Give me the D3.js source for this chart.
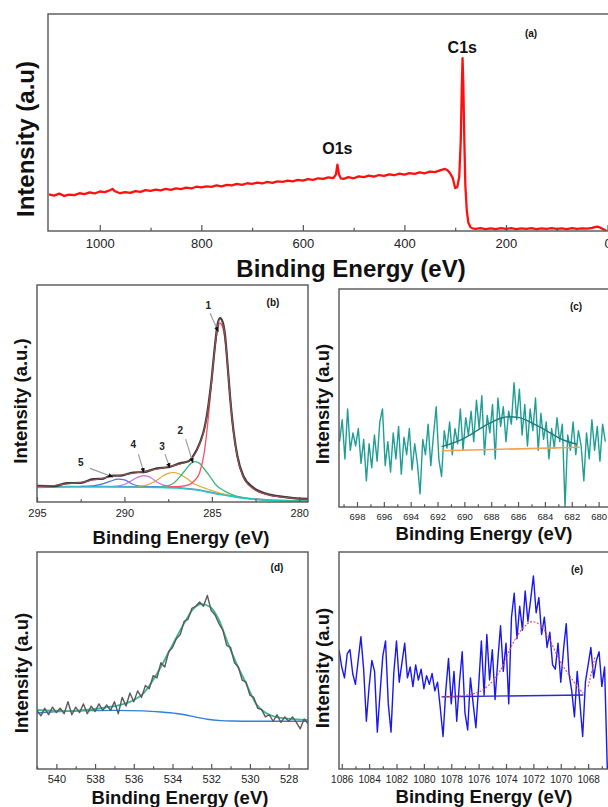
<!DOCTYPE html>
<html><head><meta charset="utf-8">
<script src="https://cdn.jsdelivr.net/npm/d3@7"></script>
<style>body{margin:0;background:#fff}svg{display:block}text{font-family:"Liberation Sans",Arial,sans-serif}</style>
</head><body><svg id="c" width="608" height="807"></svg>
<script>
// ---------- (a) survey ----------
const surveyE = [1100,1090,1080,1070,1060,1050,1040,1030,1020,1010,1000,990,980,975,970,960,950,940,930,920,910,900,890,880,870,860,850,840,830,820,810,800,790,780,770,760,750,740,730,720,710,700,690,680,670,660,650,640,630,620,610,600,590,580,570,560,550,540,535,532,529,525,520,510,500,490,480,470,460,450,440,430,420,410,400,390,380,370,360,350,340,330,320,315,310,305,300,296,292,289,287,285.5,284,282,280,277,274,270,266,260,250,240,230,220,210,200,190,180,170,160,150,140,130,120,110,100,90,80,70,60,50,40,30,25,20,15,10,5,2];
const surveyI = [16.9,16.3,17.2,16.2,16.8,16.5,17.4,17.0,17.8,17.3,18.2,17.9,18.8,19.4,18.3,17.4,17.9,17.6,18.4,18.0,18.8,18.5,19.1,18.7,19.4,19.0,19.6,19.3,20.0,19.6,20.4,20.1,20.6,20.3,21.0,20.6,21.3,21.0,21.7,21.3,22.0,21.7,22.3,21.9,22.6,22.2,22.9,22.6,23.2,22.9,23.6,23.2,23.9,23.6,24.3,24.0,24.7,24.4,26.0,30.6,26.2,24.2,24.0,24.8,24.3,25.2,24.8,25.5,25.1,25.8,25.4,26.1,25.7,26.4,26.0,26.7,26.3,27.0,26.6,27.4,27.1,27.9,28.6,28.0,26.6,24.5,19.8,20.2,25,42,66,79.7,68,42,21,9,3.8,1.8,1.2,1.0,1.3,0.9,1.2,0.9,1.3,1.0,1.3,0.9,1.2,1.0,1.3,0.9,1.2,1.0,1.3,1.0,1.2,0.9,1.3,1.0,1.2,1.1,1.4,1.8,2.0,1.6,1.0,0.4,0.2];
const surveyTicks = [1000,800,600,400,200,0];
const surveyMinor = [900,700,500,300,100];
const surveyPeaks = ["C1s","O1s"], surveyPeakE = [286,532], surveyPeakI = [82,35.5];

// ---------- (b) C1s ----------
const c1sEnvE = [295,294,293.3,292.5,291.8,291.2,290.8,290.2,289.5,288.9,288.15,287.5,286.8,286.34,286.06,285.68,285.39,285.2,285.01,284.82,284.68,284.53,284.38,284.24,284.11,283.96,283.77,283.54,283.2,282.63,281.86,280.91,279.5];
const c1sEnvI = [7.1,7.6,8.3,9.0,10.1,11.0,11.7,12.4,13.2,14.0,15.1,16.3,17.5,19.0,20.9,27.0,34.7,43.9,56.2,71.6,80.8,84.2,82.3,76.2,63.9,48.5,33.2,20.9,11.7,6.3,3.5,2.2,1.2];
const c1sDataI = [7.4,7.3,8.7,8.8,10.5,10.8,12.1,12.2,13.6,13.8,15.5,16.0,17.9,18.8,21.3,27.4,35.2,44.4,56.8,72.2,81.5,84.8,82.9,76.6,64.2,48.7,33.5,21.2,12.0,6.6,3.8,2.4,1.4];
const comp1E = [287.5,286.8,286.3,286.0,285.7,285.45,285.25,285.05,284.85,284.7,284.55,284.4,284.25,284.1,283.95,283.77,283.54,283.2,282.63,281.86,280.91,279.5];
const comp1I = [7.0,7.2,8.0,9.8,13.5,22,35,52,69,78,82.5,81,75,63,48,32.5,20.5,11.4,6.1,3.4,2.1,1.1];
const comp2E = [288,287.5,287.2,286.82,286.44,286.2,285.96,285.7,285.49,285.1,284.8,284.53,284.1,283.77,283.2,282.6,282,281,279.5];
const comp2I = [7.0,7.5,8.6,11.7,15.5,17.8,18.6,17.8,15.8,11.7,8.2,6.3,4.3,3.2,2.0,1.2,0.9,0.7,0.6];
const comp3E = [289.3,288.72,288.4,288.15,287.8,287.5,287.2,286.9,286.44,286.1,285.86,285.4,285.1,284.5,283.96,283.0,282];
const comp3I = [7.1,7.8,8.9,10.0,12.0,13.2,13.6,13.0,10.9,8.8,7.8,6.4,5.5,4.0,2.8,1.6,1.1];
const comp4E = [290.6,290.25,289.9,289.7,289.3,288.9,288.5,288.15,287.8,287.5,287];
const comp4I = [7.2,7.6,8.4,9.4,11.2,12.2,11.3,9.2,7.9,7.3,7.0];
const comp5E = [292.5,291.97,291.5,291.2,290.8,290.35,290.0,289.68,289.3,288.8,288];
const comp5I = [7.2,7.3,7.9,8.5,9.6,10.5,10.2,8.8,7.6,7.2,7.0];
const c1sBaseE = [295,293,291,289,288,287,286.3,285.86,285.2,284.72,284.1,283.58,282.8,282.07,281,279.5];
const c1sBaseI = [7.0,7.2,7.2,7.1,7.0,6.7,6.2,5.8,4.8,4.0,3.2,2.5,1.7,1.2,0.8,0.6];
const c1sTicks = [295,290,285,280], c1sMinor = [292.5,287.5,282.5];
const annLabels = ["1","2","3","4","5"];
const annTextE = [285.2,286.8,287.85,289.5,292.5], annTextI = [90.8,33.2,25.8,26.7,18.4];
const annFromE = [285.1,286.5,287.68,289.2,291.97], annFromI = [87,29,22,22,15.5];
const annToE = [284.63,286.08,287.4,288.88,290.65], annToI = [78.5,18,15.7,13.4,11.5];

// ---------- (c) F1s ----------
const f1sE = [699.3,699.1,698.9,698.7,698.5,698.3,698.1,697.9,697.7,697.5,697.3,697.1,696.9,696.7,696.5,696.3,696.1,695.9,695.7,695.5,695.3,695.1,694.9,694.7,694.5,694.3,694.1,693.9,693.7,693.5,693.3,693.1,692.9,692.7,692.5,692.3,692.1,691.9,691.7,691.5,691.3,691.1,690.9,690.7,690.5,690.3,690.1,689.9,689.7,689.5,689.3,689.1,688.9,688.7,688.5,688.3,688.1,687.9,687.7,687.5,687.3,687.1,686.9,686.7,686.5,686.3,686.1,685.9,685.7,685.5,685.3,685.1,684.9,684.7,684.5,684.3,684.1,683.9,683.7,683.5,683.3,683.1,682.9,682.7,682.5,682.3,682.1,681.9,681.7,681.5,681.3,681.1,680.9,680.7,680.5,680.3,680.1,679.9,679.7,679.5];
const f1sI = [30,40,22,45,26,34,28,36,20,31,12,29,18,33,21,39,45,19,30,16,34,22,37,15,32,24,36,17,29,20,6,31,24,38,19,33,46,22,14,35,27,39,24,36,29,45,26,41,33,44,30,49,36,51,24,42,34,47,22,50,37,46,30,44,38,57,40,54,33,47,28,45,35,50,26,43,31,39,22,36,27,41,30,38,0,33,26,39,24,35,28,12,34,22,40,26,37,21,38,30];
const f1sFitE = [691.7,691,690.3,689.5,688.8,688,687.3,686.7,685.9,685.2,684.4,683.6,682.9,682.2,681.6];
const f1sFitI = [27.7,29,30.7,33.3,36.1,38.8,40.7,41.4,41.0,39.3,36.8,34.0,31.5,29.8,28.8];
const f1sBaseE = [691.7,681.4], f1sBaseI = [25.8,27.4];
const f1sTicks = [698,696,694,692,690,688,686,684,682,680];
const f1sMinor = [699,697,695,693,691,689,687,685,683,681];

// ---------- (d) O1s ----------
const o1sE = [541.0,540.8,540.6,540.4,540.2,540.0,539.8,539.6,539.4,539.2,539.0,538.8,538.6,538.4,538.2,538.0,537.8,537.6,537.4,537.2,537.0,536.8,536.6,536.4,536.2,536.0,535.8,535.6,535.4,535.2,535.0,534.8,534.6,534.4,534.2,534.0,533.8,533.6,533.4,533.2,533.0,532.8,532.6,532.4,532.2,532.0,531.8,531.6,531.4,531.2,531.0,530.8,530.6,530.4,530.2,530.0,529.8,529.6,529.4,529.2,529.0,528.8,528.6,528.4,528.2,528.0,527.8,527.6,527.4,527.2,527.0];
const o1sI = [27,24.5,28,25,28.5,26,28,25.5,31,25,28.5,26,30,25.5,29,26.5,30,27,29.5,27,31,25.5,33,29,35,31,36,33,38.5,37,43,42,49,47,54,56,60,62,68,69,74,75,77,75,80,73,71,67,64,57,56,49,47,41,40,34,33,28,27.5,24,25,22,25,21.5,24,22,24,21.5,18.5,23,21];
const o1sFitE = [541,539.45,537.7,536.7,536.0,535.5,535.0,534.5,533.96,533.4,532.9,532.5,532.07,531.6,531.2,530.7,530.2,529.7,529.15,528.3,527.0];
const o1sFitI = [27.2,26.7,28.0,29.5,31.8,34.9,41.0,48.7,57.9,67.1,74.0,76.0,74.8,68.7,59.4,48.7,39.5,30.3,25.7,23.4,22.6];
const o1sBaseE = [541,539,537,535.5,534.6,533.8,533.3,532.8,532.2,531.5,530.9,530,527];
const o1sBaseI = [25.8,26.8,27.0,26.8,26.3,25.6,24.9,23.9,22.9,22.3,22.1,22.0,22.0];
const o1sTicks = [540,538,536,534,532,530,528];
const o1sMinor = [541,539,537,535,533,531,529];

// ---------- (e) Na1s ----------
const na1sE = [1086.2,1086.0,1085.8,1085.6,1085.4,1085.2,1085.0,1084.8,1084.6,1084.4,1084.2,1084.0,1083.8,1083.6,1083.4,1083.2,1083.0,1082.8,1082.6,1082.4,1082.2,1082.0,1081.8,1081.6,1081.4,1081.2,1081.0,1080.8,1080.6,1080.4,1080.2,1080.0,1079.8,1079.6,1079.4,1079.2,1079.0,1078.8,1078.6,1078.4,1078.2,1078.0,1077.8,1077.6,1077.4,1077.2,1077.0,1076.8,1076.6,1076.4,1076.2,1076.0,1075.8,1075.6,1075.4,1075.2,1075.0,1074.8,1074.6,1074.4,1074.2,1074.0,1073.8,1073.6,1073.4,1073.2,1073.0,1072.8,1072.6,1072.4,1072.2,1072.0,1071.8,1071.6,1071.4,1071.2,1071.0,1070.8,1070.6,1070.4,1070.2,1070.0,1069.8,1069.6,1069.4,1069.2,1069.0,1068.8,1068.6,1068.4,1068.2,1068.0,1067.8,1067.6,1067.4,1067.2,1067.0,1066.8,1066.6];
const na1sI = [55,47,42,53,55,44,39,50,61,46,22,38,50,45,17,35,52,59,30,17,44,59,40,49,58,42,47,38,48,41,46,37,43,39,44,36,40,28,15,36,51,30,45,22,40,54,26,18,42,30,19,38,59,34,62,41,55,32,50,66,45,58,30,70,81,60,75,64,82,68,78,89,72,79,62,70,56,63,48,46,58,40,55,67,44,36,24,45,30,15,40,48,56,42,50,54,38,47,0];
const na1sFitE = [1078.7,1077.6,1076.4,1075.4,1074.4,1073.5,1072.7,1072.1,1071.5,1070.8,1070.1,1069.3,1068.7,1068.35];
const na1sFitI = [33.3,33.6,34.6,37.9,45.6,57.9,65.3,67.9,66.4,59.4,50.2,42.5,37.2,34.9];
const na1sFit2E = [1068.0,1067.7,1067.5], na1sFit2I = [38,46,51.7];
const na1sBaseE = [1078.7,1068.35], na1sBaseI = [33.3,34.1];
const na1sTicks = [1086,1084,1082,1080,1078,1076,1074,1072,1070,1068];
const na1sMinor = [1085,1083,1081,1079,1077,1075,1073,1071,1069,1067];

// ---------- drawing ----------
const svg = d3.select("#c");
const defs = svg.append("defs");
defs.append("marker").attr("id","ah").attr("viewBox","0 0 10 10").attr("refX",9).attr("refY",5)
  .attr("markerWidth",5).attr("markerHeight",5).attr("orient","auto")
  .append("path").attr("d","M0,1L10,5L0,9Z").attr("fill","#111");

function panel(p) {
  const x = d3.scaleLinear().domain(p.xd).range([p.l, p.r]);
  const y = d3.scaleLinear().domain([0,100]).range([p.b, p.t]);
  const g = svg.append("g");
  defs.append("clipPath").attr("id","clip"+p.id).append("rect")
    .attr("x",p.l).attr("y",p.t).attr("width",p.r-p.l).attr("height",p.b-p.t);
  const plot = g.append("g").attr("clip-path","url(#clip"+p.id+")");
  g.append("rect").attr("x",p.l).attr("y",p.t).attr("width",p.fw).attr("height",p.b-p.t)
    .attr("fill","none").attr("stroke","#555").attr("stroke-width",1.4);
  const ax = g.append("g").attr("transform",`translate(0,${p.b})`)
    .call(d3.axisBottom(x).tickValues(p.ticks).tickSize(-p.tl).tickPadding(p.pad).tickFormat(d3.format("d")));
  ax.select(".domain").remove();
  ax.selectAll("line").attr("stroke","#555").attr("stroke-width",1.2);
  ax.selectAll("text").attr("font-size",p.tfs).attr("fill","#222")
    .style("font-family","'Liberation Sans',Arial,sans-serif");
  const mx = g.append("g").attr("transform",`translate(0,${p.b})`)
    .call(d3.axisBottom(x).tickValues(p.minor).tickSize(-p.tl*0.55).tickFormat(""));
  mx.select(".domain").remove();
  mx.selectAll("line").attr("stroke","#555").attr("stroke-width",1.2);
  g.append("text").attr("x",p.xlx).attr("y",p.xly).attr("text-anchor","middle")
    .attr("font-weight","bold").attr("font-size",p.lfs).attr("fill","#111").text("Binding Energy (eV)");
  g.append("text").attr("transform",`translate(${p.ylx},${p.yly}) rotate(-90)`).attr("text-anchor","middle")
    .attr("font-weight","bold").attr("font-size",p.lfs).attr("fill","#111").text(p.ylab);
  g.append("text").attr("x",p.tagx).attr("y",p.tagy).attr("text-anchor","middle")
    .attr("font-weight","bold").attr("font-size",10).attr("fill","#111").text(p.tag);
  return {x,y,plot,g};
}
function drawLine(P, E, I, color, w, curve, dash) {
  const pts = E.map((e,i)=>[e,I[i]]);
  const ln = d3.line().x(d=>P.x(d[0])).y(d=>P.y(d[1])).curve(curve||d3.curveLinear);
  const pth = P.plot.append("path").datum(pts).attr("d",ln).attr("fill","none")
    .attr("stroke",color).attr("stroke-width",w).attr("stroke-linejoin","round");
  if (dash) pth.attr("stroke-dasharray",dash);
  return pth;
}

// (a)
const A = panel({id:"a", l:48, r:607.5, fw:580, t:14, b:231, xd:[1102,0], ticks:surveyTicks, minor:surveyMinor,
  tl:6, pad:8, tfs:13, lfs:24, xlx:351, xly:277, ylx:34, yly:139, ylab:"Intensity (a.u)", tag:"(a)", tagx:531, tagy:37});
drawLine(A, surveyE, surveyI, "#ff1010", 2.3);
A.g.selectAll(".pk").data(surveyPeaks).join("text").attr("x",(d,i)=>A.x(surveyPeakE[i])).attr("y",(d,i)=>A.y(surveyPeakI[i]))
  .attr("text-anchor","middle").attr("font-weight","bold").attr("font-size",16).attr("fill","#111").text(d=>d);

// (b)
const B = panel({id:"b", l:37, r:308, fw:271, t:285, b:502, xd:[295,279.5], ticks:c1sTicks, minor:c1sMinor,
  tl:5, pad:7, tfs:11, lfs:18.5, xlx:181, xly:544, ylx:27, yly:401, ylab:"Intensity (a.u.)", tag:"(b)", tagx:273, tagy:306});
drawLine(B, c1sBaseE, c1sBaseI, "#7a8ad8", 1.2, d3.curveMonotoneX);
drawLine(B, comp5E, comp5I, "#4f6fe0", 1.2, d3.curveMonotoneX);
drawLine(B, comp4E, comp4I, "#c86ee8", 1.2, d3.curveMonotoneX);
drawLine(B, comp3E, comp3I, "#e0a830", 1.2, d3.curveMonotoneX);
drawLine(B, comp2E, comp2I, "#3cb878", 1.3, d3.curveMonotoneX);
drawLine(B, c1sBaseE, c1sBaseI.map(v=>v-0.3), "#26c6c6", 1.4, d3.curveMonotoneX);
drawLine(B, comp1E, comp1I, "#ff5060", 1.3, d3.curveMonotoneX);
drawLine(B, c1sEnvE, c1sDataI, "#3a3a3a", 2.2, d3.curveMonotoneX);
drawLine(B, c1sEnvE, c1sEnvI, "#9c5555", 1.0, d3.curveMonotoneX);
annLabels.forEach((l,i)=>{
  B.g.append("line").attr("x1",B.x(annFromE[i])).attr("y1",B.y(annFromI[i])).attr("x2",B.x(annToE[i])).attr("y2",B.y(annToI[i]))
    .attr("stroke","#999").attr("stroke-width",1.1).attr("marker-end","url(#ah)");
  B.g.append("text").attr("x",B.x(annTextE[i])).attr("y",B.y(annTextI[i])+4).attr("text-anchor","middle")
    .attr("font-weight","bold").attr("font-size",10).attr("fill","#222").text(l);
});

// (c)
const C = panel({id:"c", l:339, r:608, fw:280, t:289, b:507, xd:[699.34,679.3], ticks:f1sTicks, minor:f1sMinor,
  tl:5, pad:6.5, tfs:9.5, lfs:18.5, xlx:484, xly:540, ylx:329, yly:404, ylab:"Intensity (a.u)", tag:"(c)", tagx:576, tagy:310});
drawLine(C, f1sE, f1sI, "#1f9e95", 1.4);
drawLine(C, f1sBaseE, f1sBaseI, "#f5a050", 1.6);
drawLine(C, f1sFitE, f1sFitI, "#1f7a80", 1.4, d3.curveMonotoneX);

// (d)
const D = panel({id:"d", l:37, r:308, fw:271, t:552, b:769, xd:[541,527], ticks:o1sTicks, minor:o1sMinor,
  tl:5, pad:6.5, tfs:11, lfs:18.5, xlx:180, xly:804, ylx:28, yly:673, ylab:"Intensity (a.u)", tag:"(d)", tagx:277, tagy:571});
drawLine(D, o1sBaseE, o1sBaseI, "#2f7fe0", 1.4, d3.curveMonotoneX);
drawLine(D, o1sFitE, o1sFitI, "#3cb890", 1.8, d3.curveMonotoneX);
drawLine(D, o1sE, o1sI, "#5a5a5a", 1.4);

// (e)
const Ep = panel({id:"e", l:339, r:608, fw:280, t:552, b:769, xd:[1086.2,1066.55], ticks:na1sTicks, minor:na1sMinor,
  tl:5, pad:7, tfs:10, lfs:18.5, xlx:484, xly:803, ylx:329, yly:668, ylab:"Intensity (a.u)", tag:"(e)", tagx:577, tagy:573});
drawLine(Ep, na1sE, na1sI, "#1818ee", 1.4);
drawLine(Ep, na1sBaseE, na1sBaseI, "#2a2ad0", 1.4);
drawLine(Ep, na1sFitE, na1sFitI, "#e8505a", 1.2, d3.curveMonotoneX, "2,1.5");
drawLine(Ep, na1sFit2E, na1sFit2I, "#e8505a", 1.2, d3.curveMonotoneX, "2,1.5");
</script></body></html>
